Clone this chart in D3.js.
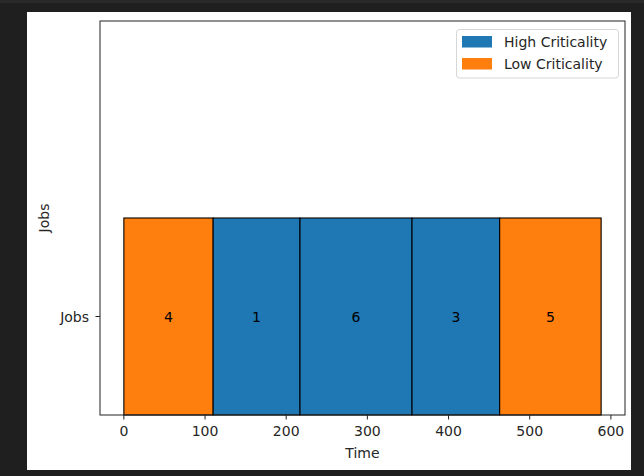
<!DOCTYPE html>
<html><head><meta charset="utf-8">
<script src="https://cdn.jsdelivr.net/npm/d3@7"></script>
<style>
html,body{margin:0;padding:0;background:#1f1f1f;}
svg{display:block;}
text{font-family:"DejaVu Sans",sans-serif;}
</style></head>
<body>
<script>
const jobIds = ["4", "1", "6", "3", "5"];
const jobStarts = [0, 110, 217, 355, 463];
const jobDurations = [110, 107, 138, 108, 125];
const jobCriticality = ["Low", "High", "High", "High", "Low"];
const xTicks = [0, 100, 200, 300, 400, 500, 600];
const yCategories = ["Jobs"];
const legendLabels = ["High Criticality", "Low Criticality"];
const colors = {High: "#1f77b4", Low: "#ff7f0e"};

const W = 644, H = 476;
const svg = d3.select("body").append("svg").attr("width", W).attr("height", H);
svg.append("rect").attr("x",0).attr("y",0).attr("width",W).attr("height",H).attr("fill","#1f1f1f");
svg.append("rect").attr("x",0).attr("y",0).attr("width",W).attr("height",3).attr("fill","#2a2a2a");
svg.append("rect").attr("x",27).attr("y",12).attr("width",604).attr("height",458).attr("fill","#ffffff");

const L = 100, R = 625, T = 21, B = 415;
const maxEnd = d3.max(jobStarts.map((s,i)=>s+jobDurations[i]));
const pad = maxEnd*0.05;
const x = d3.scaleLinear().domain([-pad, maxEnd+pad]).range([L, R]);
const y = d3.scaleLinear().domain([-0.5, 1.5]).range([B, T]);
const yBand = d3.scalePoint().domain(yCategories).range([y(0), y(0)]);

const fs = 14;
// bars
const data = jobIds.map((id,i)=>({id, s:jobStarts[i], d:jobDurations[i], c:jobCriticality[i]}));
const g = svg.append("g");
g.selectAll("rect.bar").data(data).enter().append("rect")
  .attr("class","bar")
  .attr("x", d=>x(d.s)).attr("width", d=>x(d.s+d.d)-x(d.s))
  .attr("y", y(0.5)).attr("height", y(-0.5)-y(0.5))
  .attr("fill", d=>colors[d.c]).attr("stroke","#000").attr("stroke-width",1.1);
g.selectAll("text.lab").data(data).enter().append("text")
  .attr("x", d=>x(d.s+d.d/2)).attr("y", yBand("Jobs")+5)
  .attr("text-anchor","middle").attr("font-size",fs).attr("fill","#000")
  .text(d=>d.id);

// frame
svg.append("rect").attr("x",L).attr("y",T).attr("width",R-L).attr("height",B-T)
  .attr("fill","none").attr("stroke","#222").attr("stroke-width",1);

// x axis
const xa = svg.append("g");
xTicks.forEach(t=>{
  xa.append("line").attr("x1",x(t)).attr("x2",x(t)).attr("y1",B).attr("y2",B+4.5).attr("stroke","#222");
  xa.append("text").attr("x",x(t)).attr("y",436).attr("text-anchor","middle").attr("font-size",fs).attr("fill","#262626").text(t);
});
svg.append("text").attr("x",(L+R)/2).attr("y",458).attr("text-anchor","middle").attr("font-size",fs).attr("fill","#262626").text("Time");

// y axis
yCategories.forEach(c=>{
  const yy = yBand(c);
  svg.append("line").attr("x1",L-4.5).attr("x2",L).attr("y1",yy).attr("y2",yy).attr("stroke","#222");
  svg.append("text").attr("x",89).attr("y",yy+5).attr("text-anchor","end").attr("font-size",fs).attr("fill","#262626").text(c);
});
svg.append("text").attr("transform",`translate(49,${(T+B)/2}) rotate(-90)`)
  .attr("text-anchor","middle").attr("font-size",fs).attr("fill","#262626").text("Jobs");

// legend
const lg = svg.append("g");
lg.append("rect").attr("x",456.5).attr("y",29.5).attr("width",162).attr("height",48.5).attr("rx",3)
  .attr("fill","#fff").attr("fill-opacity",0.8).attr("stroke","#d6d6d6");
legendLabels.forEach((lab,i)=>{
  const key = i===0 ? "High" : "Low";
  const cy = 42 + i*22;
  lg.append("rect").attr("x",462).attr("y",cy-6).attr("width",30).attr("height",11.5).attr("fill",colors[key]);
  lg.append("text").attr("x",504).attr("y",cy+5).attr("font-size",fs).attr("fill","#262626").text(lab);
});
</script>
</body></html>
